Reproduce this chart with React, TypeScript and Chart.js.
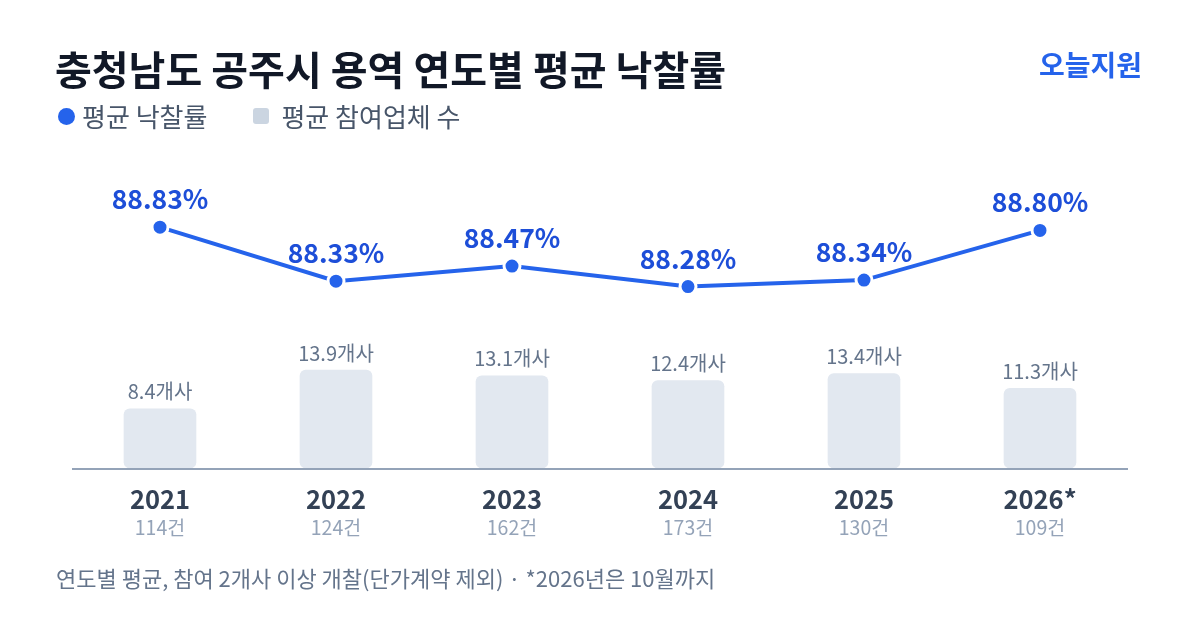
import React, { useEffect, useRef } from "react";
import { Chart, registerables } from "chart.js";

Chart.register(...registerables);

const years = ["2021", "2022", "2023", "2024", "2025", "2026*"];
const caseCounts = [114, 124, 162, 173, 130, 109];
const winRates = [88.83, 88.33, 88.47, 88.28, 88.34, 88.8];
const bidders = [8.4, 13.9, 13.1, 12.4, 13.4, 11.3];

const FONT = '"Noto Sans CJK KR", "Noto Sans", sans-serif';
const BLUE = "#2563eb";

const overlayPlugin = {
  id: "overlay",
  afterDatasetsDraw(chart: any) {
    const ctx = chart.ctx;
    const { left, right, bottom } = chart.chartArea;
    const xs = chart.scales.x;
    ctx.save();
    // axis line
    ctx.strokeStyle = "#94a3b8";
    ctx.lineWidth = 2;
    ctx.beginPath();
    ctx.moveTo(left, bottom + 1);
    ctx.lineTo(right, bottom + 1);
    ctx.stroke();

    ctx.textAlign = "center";
    ctx.textBaseline = "middle";

    // bar labels
    const barMeta = chart.getDatasetMeta(1);
    ctx.fillStyle = "#64748b";
    ctx.font = `400 20px ${FONT}`;
    barMeta.data.forEach((el: any, i: number) => {
      ctx.fillText(`${bidders[i].toFixed(1)}개사`, el.x, el.y - 17);
    });

    // line labels
    const lineMeta = chart.getDatasetMeta(0);
    ctx.fillStyle = "#1d4ed8";
    ctx.font = `700 26.5px ${FONT}`;
    lineMeta.data.forEach((el: any, i: number) => {
      ctx.fillText(`${winRates[i].toFixed(2)}%`, el.x, el.y - 28);
    });

    // x labels
    years.forEach((y, i) => {
      const px = xs.getPixelForValue(i);
      ctx.fillStyle = "#334155";
      ctx.font = `700 25.5px ${FONT}`;
      ctx.fillText(y, px, bottom + 31);
      ctx.fillStyle = "#94a3b8";
      ctx.font = `400 19.5px ${FONT}`;
      ctx.fillText(`${caseCounts[i]}건`, px, bottom + 60);
    });
    ctx.restore();
  },
};

export default function App() {
  const ref = useRef<HTMLCanvasElement | null>(null);

  useEffect(() => {
    if (!ref.current) return;
    const chart = new Chart(ref.current, {
      type: "bar",
      data: {
        labels: years,
        datasets: [
          {
            type: "line",
            label: "평균 낙찰률",
            data: winRates,
            yAxisID: "y",
            borderColor: BLUE,
            borderWidth: 4,
            pointRadius: 8,
            pointBackgroundColor: BLUE,
            pointBorderColor: "#ffffff",
            pointBorderWidth: 3,
            tension: 0,
            order: 0,
          } as any,
          {
            type: "bar",
            label: "평균 참여업체 수",
            data: bidders,
            yAxisID: "y2",
            backgroundColor: "#e2e8f0",
            borderRadius: 6,
            borderSkipped: false,
            barThickness: 72,
            order: 1,
          },
        ],
      },
      options: {
        responsive: false,
        animation: false,
        layout: { padding: { left: 72, right: 72, top: 144, bottom: 162 } },
        plugins: { legend: { display: false }, tooltip: { enabled: false } },
        scales: {
          x: { type: "category", display: false, offset: true },
          y: { type: "linear", display: false, min: 86.6, max: 89.6 },
          y2: { type: "linear", display: false, min: 0, max: 46 },
        },
      },
      plugins: [overlayPlugin],
    });
    return () => chart.destroy();
  }, []);

  return (
    <div
      style={{
        position: "absolute",
        left: 0,
        top: 0,
        width: 1200,
        height: 630,
        background: "#ffffff",
        fontFamily: FONT,
        overflow: "hidden",
      }}
    >
      <canvas ref={ref} width={1200} height={630} style={{ position: "absolute", left: 0, top: 0 }} />
      <div
        style={{
          position: "absolute",
          left: 55,
          top: 46,
          fontSize: 40,
          lineHeight: "44px",
          fontWeight: 700,
          color: "#111827",
          whiteSpace: "nowrap",
        }}
      >
        충청남도 공주시 용역 연도별 평균 낙찰률
      </div>
      <div
        style={{
          position: "absolute",
          right: 58,
          top: 47,
          fontSize: 28,
          lineHeight: "34px",
          fontWeight: 700,
          color: BLUE,
          whiteSpace: "nowrap",
        }}
      >
        오늘지원
      </div>
      <div style={{ position: "absolute", left: 58, top: 100, height: 32, display: "flex", alignItems: "center" }}>
        <span style={{ width: 17, height: 17, borderRadius: 9, background: BLUE, display: "inline-block" }} />
        <span style={{ marginLeft: 7, fontSize: 26, lineHeight: "32px", color: "#475569" }}>평균 낙찰률</span>
        <span
          style={{
            marginLeft: 46,
            width: 16,
            height: 16,
            borderRadius: 3,
            background: "#cbd5e1",
            display: "inline-block",
          }}
        />
        <span style={{ marginLeft: 12, fontSize: 26, lineHeight: "32px", color: "#475569" }}>평균 참여업체 수</span>
      </div>
      <div
        style={{
          position: "absolute",
          left: 56,
          top: 564,
          fontSize: 22,
          lineHeight: "26px",
          color: "#64748b",
          whiteSpace: "nowrap",
        }}
      >
        연도별 평균, 참여 2개사 이상 개찰(단가계약 제외) · *2026년은 10월까지
      </div>
    </div>
  );
}
